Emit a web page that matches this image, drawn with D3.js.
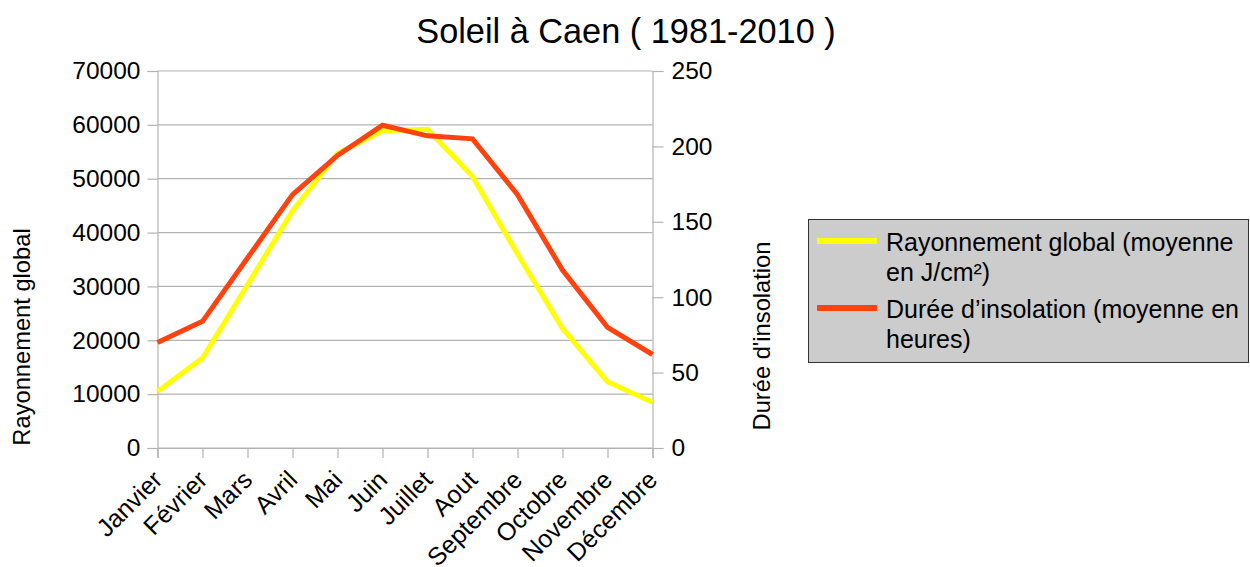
<!DOCTYPE html>
<html>
<head>
<meta charset="utf-8">
<script src="https://cdn.jsdelivr.net/npm/d3@7/dist/d3.min.js"></script>
<style>
body { margin: 0; background: #fff; }
text { font-family: "Liberation Sans", Arial, sans-serif; fill: #000; }
</style>
</head>
<body>
<script>
// chart size
var W = 1250, H = 567;

// data
var months = ["Janvier", "Février", "Mars", "Avril", "Mai", "Juin", "Juillet", "Aout", "Septembre", "Octobre", "Novembre", "Décembre"];
var rayonnement = [10500, 16700, 30300, 44000, 54700, 58900, 59200, 50400, 36000, 22200, 12300, 8500];
var insolation = [70, 84, 126, 168, 194, 214, 207, 205, 168, 118, 80, 62];
var leftTicks = [0, 10000, 20000, 30000, 40000, 50000, 60000, 70000];
var rightTicks = [0, 50, 100, 150, 200, 250];

// plot area (plotTop, not "top", which is window.top)
var plotLeft = 157.5, plotRight = 652.5, plotTop = 71, plotBottom = 448;

var svg = d3.select("body").append("svg")
	.attr("width", W)
	.attr("height", H);

var x = d3.scalePoint().domain(months).range([plotLeft, plotRight]);
var yL = d3.scaleLinear().domain([0, 70000]).range([plotBottom, plotTop]);
var yR = d3.scaleLinear().domain([0, 250]).range([plotBottom, plotTop]);

//title
svg.append("text")
	.attr("x", 626)
	.attr("y", 43)
	.attr("text-anchor", "middle")
	.attr("font-size", "34.3px")
	.text("Soleil à Caen ( 1981-2010 )");

//horizontal grid lines from the left axis
svg.append("g")
	.selectAll("line")
	.data(leftTicks)
	.enter().append("line")
	.attr("x1", plotLeft).attr("x2", plotRight)
	.attr("y1", function(d){return yL(d)})
	.attr("y2", function(d){return yL(d)})
	.style("stroke", "#b3b3b3")
	.style("stroke-width", 1.2);

//left axis
var gL = svg.append("g")
	.attr("transform", "translate(" + plotLeft + ",0)")
	.call(d3.axisLeft(yL).tickValues(leftTicks).tickSize(10).tickPadding(7).tickFormat(d3.format("d")));

//right axis
var gR = svg.append("g")
	.attr("transform", "translate(" + plotRight + ",0)")
	.call(d3.axisRight(yR).tickValues(rightTicks).tickSize(11).tickPadding(8).tickFormat(d3.format("d")));

//bottom axis
var gB = svg.append("g")
	.attr("transform", "translate(0," + plotBottom + ")")
	.call(d3.axisBottom(x).tickSize(10).tickFormat(""));

[gL, gR, gB].forEach(function(g){
	g.select(".domain").style("stroke", "#b3b3b3").style("stroke-width", 1.2);
	g.selectAll(".tick line").style("stroke", "#b3b3b3").style("stroke-width", 1.2);
	g.selectAll(".tick text").attr("font-size", "24.5px").style("font-family", "Liberation Sans, Arial, sans-serif").attr("fill", "#000");
});

//rotated month labels
svg.append("g")
	.selectAll("text")
	.data(months)
	.enter().append("text")
	.attr("transform", function(d){return "translate(" + (x(d) - 6) + "," + (plotBottom + 21) + ") rotate(-45)"})
	.attr("text-anchor", "end")
	.attr("dy", "0.7em")
	.attr("font-size", "25px")
	.text(function(d){return d});

//axis titles
svg.append("text")
	.attr("transform", "translate(30,337) rotate(-90)")
	.attr("text-anchor", "middle")
	.attr("font-size", "23.7px")
	.text("Rayonnement global");

svg.append("text")
	.attr("transform", "translate(770,336) rotate(-90)")
	.attr("text-anchor", "middle")
	.attr("font-size", "23.7px")
	.text("Durée d'insolation");

//lines
var lineL = d3.line()
	.x(function(d, i){return x(months[i])})
	.y(function(d){return yL(d)});
var lineR = d3.line()
	.x(function(d, i){return x(months[i])})
	.y(function(d){return yR(d)});

svg.append("path")
	.attr("d", lineL(rayonnement))
	.style("fill", "none")
	.style("stroke", "#ffff00")
	.style("stroke-width", 5);

svg.append("path")
	.attr("d", lineR(insolation))
	.style("fill", "none")
	.style("stroke", "#ff420e")
	.style("stroke-width", 5);

//legend
var legend = svg.append("g");
legend.append("rect")
	.attr("x", 808.5).attr("y", 219.5)
	.attr("width", 440).attr("height", 143)
	.style("fill", "#cccccc")
	.style("stroke", "#333")
	.style("stroke-width", 1);

var legendItems = [
	{color: "#ffff00", lines: ["Rayonnement global (moyenne", "en J/cm²)"], y: 241},
	{color: "#ff420e", lines: ["Durée d’insolation (moyenne en", "heures)"], y: 308}
];

var item = legend.selectAll("g.item")
	.data(legendItems)
	.enter().append("g")
	.attr("class", "item");

item.append("line")
	.attr("x1", 817).attr("x2", 877)
	.attr("y1", function(d){return d.y})
	.attr("y2", function(d){return d.y})
	.style("stroke", function(d){return d.color})
	.style("stroke-width", 6);

item.each(function(d){
	var t = d3.select(this).append("text")
		.attr("font-size", "25px");
	d.lines.forEach(function(l, i){
		t.append("tspan")
			.attr("x", 886)
			.attr("y", d.y + 9.5 + i * 30.5)
			.text(l);
	});
});
</script>
</body>
</html>
